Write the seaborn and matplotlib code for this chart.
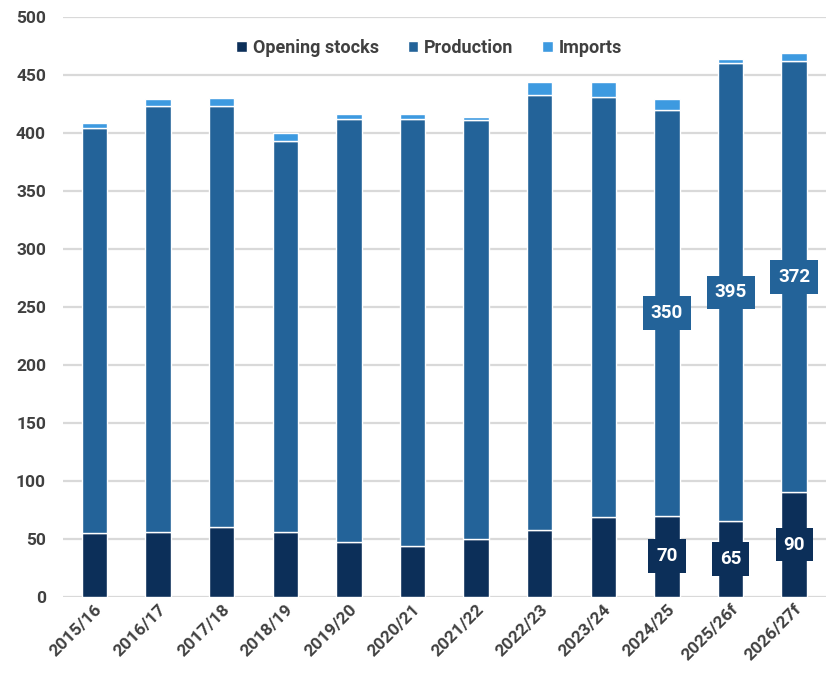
import matplotlib
matplotlib.use("Agg")
import matplotlib.pyplot as plt
import pandas as pd
import numpy as np
import seaborn as sns

# marketing years (f = forecast)
years = ["2015/16", "2016/17", "2017/18", "2018/19", "2019/20", "2020/21",
         "2021/22", "2022/23", "2023/24", "2024/25", "2025/26f", "2026/27f"]
opening = [55, 56, 60, 56, 47, 44, 50, 58, 69, 70, 65, 90]
production = [349, 367, 363, 337, 365, 368, 361, 375, 362, 350, 395, 372]
imports = [5, 6, 7, 7, 4, 4, 3, 11, 13, 9, 4, 7]
labelled = ["2024/25", "2025/26f", "2026/27f"]

C_OPEN = "#0c2f59"
C_PROD = "#236399"
C_IMP = "#3d9ae0"
TXT = "#404040"

df = pd.DataFrame({"year": years, "open": opening, "prod": production, "imp": imports})

sns.set_style("white")
plt.rcParams["font.family"] = ["Roboto", "DejaVu Sans"]

fig = plt.figure(figsize=(8.27, 6.82), dpi=100)
ax = fig.add_axes([0.0758, 0.125, 0.923, 0.85])

sns.barplot(data=df, x="year", y="open", color=C_OPEN, width=0.4, ax=ax,
            label="Opening stocks", saturation=1)
sns.barplot(data=df, x="year", y="prod", color=C_PROD, width=0.4, ax=ax,
            bottom=df["open"], label="Production", saturation=1)
sns.barplot(data=df, x="year", y="imp", color=C_IMP, width=0.4, ax=ax,
            bottom=df["open"] + df["prod"], label="Imports", saturation=1)

# value boxes on the last three years
for i, y in enumerate(years):
    if y not in labelled:
        continue
    o, p = opening[i], production[i]
    ax.text(i, o / 2, str(o), ha="center", va="center", color="white",
            fontsize=13.5, fontweight="bold",
            bbox=dict(boxstyle="square,pad=0.42", fc=C_OPEN, ec="none"))
    ax.text(i, o + p / 2, str(p), ha="center", va="center", color="white",
            fontsize=13.5, fontweight="bold",
            bbox=dict(boxstyle="square,pad=0.42", fc=C_PROD, ec="none"))

ax.set_xlim(-0.5, len(years) - 0.5)
ax.set_ylim(0, 500)
ax.set_yticks(np.arange(0, 501, 50))
ax.yaxis.grid(True, color="#d9d9d9", linewidth=1.6)
ax.set_axisbelow(True)
for s in ax.spines.values():
    s.set_visible(False)
ax.set_xlabel("")
ax.set_ylabel("")
ax.tick_params(axis="both", length=0, labelsize=12.5, colors=TXT)
ax.tick_params(axis="y", pad=12)
for lab in ax.get_yticklabels():
    lab.set_fontweight("bold")
plt.setp(ax.get_xticklabels(), rotation=45, ha="right", rotation_mode="anchor",
         fontweight="bold")

leg = ax.legend(loc="upper center", bbox_to_anchor=(0.48, 0.99), ncol=3,
                frameon=False, fontsize=13, handlelength=0.6, handleheight=0.6,
                handletextpad=0.3, columnspacing=1.6)
for t in leg.get_texts():
    t.set_color(TXT)
    t.set_fontweight("bold")

fig.savefig("out.png", dpi=100)
